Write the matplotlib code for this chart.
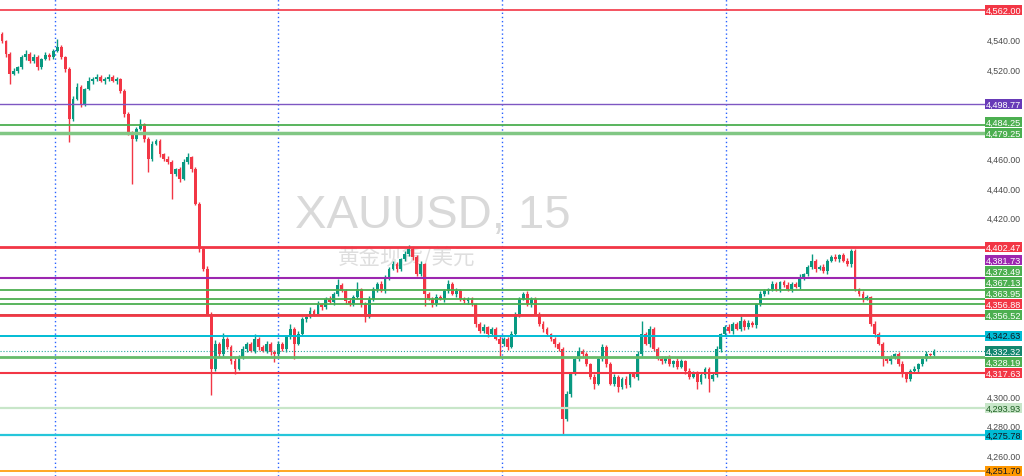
import numpy as np
import matplotlib.pyplot as plt
from matplotlib.patches import Rectangle
from matplotlib.transforms import blended_transform_factory

plt.rcParams['font.family'] = ['Liberation Sans', 'DejaVu Sans']

# XAUUSD 15m candles (open of each bar = previous close)
first_open = 4545.8
closes = [
    4541.1, 4532.4, 4518.9, 4520.9, 4523.6, 4530.3, 4532.4, 4527.6, 4530.3, 4523.6,
    4529.0, 4531.7, 4530.3, 4534.4, 4537.1, 4530.3, 4522.3, 4488.6, 4502.1, 4510.1,
    4498.7, 4508.8, 4514.2, 4515.5, 4516.9, 4514.2, 4515.5, 4516.9, 4514.2, 4515.5,
    4507.4, 4492.0, 4478.5, 4475.1, 4481.9, 4485.2, 4475.1, 4461.7, 4471.8, 4473.8,
    4465.0, 4461.7, 4459.6, 4451.6, 4454.9, 4448.2, 4459.6, 4463.0, 4454.9, 4431.4,
    4401.1, 4387.6, 4357.3, 4320.3, 4337.1, 4330.3, 4340.5, 4335.1, 4325.6, 4320.3,
    4328.3, 4333.7, 4337.1, 4332.4, 4340.5, 4335.1, 4332.4, 4337.1, 4331.7, 4330.3,
    4337.1, 4333.7, 4341.8, 4347.2, 4337.1, 4343.8, 4353.9, 4355.3, 4359.3, 4357.3,
    4364.0, 4362.0, 4367.4, 4365.4, 4370.8, 4376.8, 4372.8, 4366.0, 4364.0, 4368.7,
    4374.1, 4364.0, 4355.3, 4367.4, 4374.1, 4377.5, 4372.8, 4382.2, 4387.6, 4390.9,
    4387.6, 4394.3, 4397.7, 4401.1, 4395.6, 4384.2, 4390.9, 4370.8, 4367.4, 4364.0,
    4368.7, 4367.4, 4372.8, 4377.5, 4370.8, 4372.8, 4367.4, 4366.0, 4367.4, 4364.0,
    4350.6, 4345.8, 4348.5, 4343.8, 4347.2, 4340.5, 4337.1, 4340.5, 4335.1, 4343.8,
    4357.3, 4367.4, 4370.8, 4364.0, 4367.4, 4357.3, 4350.6, 4347.2, 4343.8, 4340.5,
    4337.1, 4333.7, 4286.6, 4303.4, 4316.9, 4327.0, 4332.4, 4330.3, 4323.6, 4314.9,
    4310.2, 4327.0, 4335.1, 4323.6, 4310.2, 4314.9, 4308.1, 4313.5, 4309.5, 4316.9,
    4314.9, 4330.3, 4343.8, 4337.1, 4347.2, 4333.7, 4327.0, 4325.6, 4328.3, 4323.6,
    4325.6, 4321.6, 4325.6, 4318.9, 4314.9, 4317.6, 4311.5, 4316.2, 4320.3, 4313.5,
    4316.2, 4333.7, 4343.8, 4348.5, 4345.8, 4350.6, 4347.2, 4352.6, 4348.5, 4351.2,
    4349.9, 4364.0, 4370.8, 4372.8, 4374.1, 4377.5, 4374.1, 4378.8, 4376.8, 4374.1,
    4377.5, 4375.5, 4382.2, 4384.2, 4388.9, 4393.0, 4387.6, 4388.9, 4386.2, 4393.0,
    4395.6, 4394.3, 4397.0, 4393.0, 4390.9, 4399.7, 4374.1, 4370.8, 4367.4, 4368.7,
    4350.6, 4343.8, 4337.1, 4327.0, 4325.6, 4328.3, 4330.3, 4323.6, 4316.9, 4313.5,
    4318.9, 4320.3, 4323.6, 4327.0, 4330.3, 4329.7, 4332.3,
]
# wick length above the body top / below the body bottom
upper_wicks = [
    1.5, 1.0, 1.5, 2.0, 1.0, 1.5, 2.5, 1.0, 2.0, 1.5,
    1.0, 2.0, 1.5, 1.0, 5.4, 1.5, 1.0, 1.5, 2.0, 2.5,
    1.5, 1.0, 2.5, 1.5, 2.0, 1.0, 1.5, 2.0, 1.0, 1.5,
    1.0, 1.5, 1.0, 2.0, 1.5, 3.4, 1.0, 1.5, 2.0, 1.0,
    1.5, 1.0, 2.0, 1.5, 1.0, 1.5, 2.0, 2.7, 1.0, 1.5,
    1.0, 1.5, 2.0, 1.0, 3.0, 1.5, 4.0, 1.5, 1.0, 2.0,
    1.5, 2.0, 1.0, 1.5, 3.3, 1.0, 1.5, 2.0, 1.0, 1.5,
    2.0, 1.0, 1.5, 3.4, 1.0, 2.0, 1.5, 1.0, 2.5, 1.5,
    2.0, 1.0, 1.5, 2.0, 1.0, 4.0, 1.5, 1.0, 2.0, 1.5,
    5.0, 1.0, 1.5, 2.0, 1.5, 1.0, 2.0, 1.5, 1.0, 2.0,
    1.5, 1.0, 2.0, 2.7, 1.0, 1.5, 2.0, 1.0, 1.5, 1.0,
    2.0, 1.5, 1.0, 3.0, 1.5, 2.0, 1.0, 1.5, 1.0, 1.5,
    1.0, 1.5, 2.0, 1.0, 1.5, 1.0, 2.0, 1.5, 1.0, 2.0,
    1.5, 1.0, 1.5, 2.0, 1.0, 1.5, 1.0, 2.0, 1.5, 1.0,
    1.5, 1.0, 1.5, 2.0, 1.0, 1.5, 2.5, 1.0, 1.5, 1.0,
    2.0, 1.5, 2.0, 1.0, 1.5, 2.0, 1.0, 1.5, 2.0, 1.0,
    1.5, 2.0, 8.8, 1.5, 2.0, 1.0, 1.5, 2.0, 1.0, 1.5,
    1.0, 2.0, 1.5, 1.0, 2.0, 1.5, 1.0, 2.0, 1.5, 1.0,
    1.5, 2.0, 1.0, 1.5, 2.0, 1.0, 1.5, 3.4, 1.0, 2.0,
    1.5, 1.0, 2.0, 1.5, 1.0, 2.0, 1.5, 1.0, 1.5, 2.0,
    1.0, 1.5, 2.0, 1.0, 1.5, 4.7, 1.0, 1.5, 2.0, 1.0,
    1.5, 2.0, 1.0, 1.5, 2.0, 1.4, 1.5, 1.0, 2.0, 1.5,
    1.0, 2.0, 1.5, 1.0, 2.0, 1.5, 1.0, 1.5, 2.0, 1.0,
    1.5, 2.0, 1.0, 1.5, 2.0, 1.0, 1.5,
]
lower_wicks = [
    1.5, 2.0, 6.7, 1.0, 1.5, 1.0, 2.0, 1.5, 1.0, 2.0,
    1.5, 1.0, 2.0, 1.5, 1.0, 1.5, 2.0, 15.5, 1.5, 1.0,
    2.0, 1.5, 1.0, 2.0, 1.5, 1.0, 2.0, 1.5, 1.0, 2.0,
    1.5, 2.0, 1.0, 30.0, 1.5, 1.0, 2.0, 8.8, 1.5, 1.0,
    2.0, 1.5, 1.0, 17.0, 1.5, 2.0, 1.0, 1.5, 2.0, 1.0,
    2.0, 1.5, 1.0, 17.5, 1.5, 2.0, 1.0, 1.5, 2.0, 3.4,
    1.0, 1.5, 2.0, 1.0, 1.5, 2.0, 1.0, 1.5, 2.0, 5.4,
    1.5, 1.0, 2.0, 1.5, 10.0, 1.0, 1.5, 2.0, 1.0, 1.5,
    1.0, 2.0, 1.5, 1.0, 2.0, 1.5, 1.0, 2.0, 1.5, 1.0,
    1.5, 2.0, 3.4, 1.0, 1.5, 2.0, 1.0, 1.5, 2.0, 1.0,
    2.0, 1.5, 1.0, 1.5, 2.0, 1.0, 1.5, 8.0, 1.0, 2.0,
    1.5, 1.0, 2.0, 1.5, 1.0, 2.0, 1.5, 1.0, 2.0, 1.5,
    2.0, 1.5, 1.0, 2.0, 1.5, 1.0, 9.0, 1.5, 2.0, 1.0,
    1.5, 2.0, 1.0, 1.5, 2.0, 1.0, 1.5, 2.0, 1.0, 1.5,
    2.0, 1.0, 10.8, 1.5, 2.0, 1.0, 1.5, 2.0, 1.0, 1.5,
    3.4, 1.0, 1.5, 2.0, 1.0, 1.5, 3.3, 1.0, 2.0, 1.5,
    1.0, 2.0, 1.5, 1.0, 2.0, 1.5, 1.0, 2.0, 1.5, 1.0,
    2.0, 1.5, 1.0, 2.0, 1.5, 1.0, 4.7, 1.5, 2.0, 8.7,
    1.0, 1.5, 2.0, 1.0, 1.5, 2.0, 1.0, 1.5, 2.0, 1.0,
    1.5, 2.0, 1.0, 1.5, 2.0, 1.0, 1.5, 2.0, 1.0, 1.5,
    2.0, 1.0, 1.5, 2.0, 1.0, 1.5, 2.0, 1.0, 1.5, 2.0,
    1.0, 1.5, 2.0, 1.0, 1.5, 2.0, 1.0, 1.5, 2.0, 1.0,
    1.5, 2.0, 1.0, 4.7, 1.5, 2.0, 1.0, 1.5, 2.0, 2.0,
    1.0, 1.5, 2.0, 1.0, 1.5, 2.0, 1.0,
]

# session separators (bar index)
session_breaks = [13.4, 69.9, 126.6, 183.3]

# horizontal levels
level_prices = [4562.00, 4498.77, 4484.25, 4479.25, 4402.47, 4381.73, 4373.49,
                4367.13, 4363.95, 4356.52, 4356.88, 4342.63, 4332.32, 4328.19,
                4317.63, 4293.93, 4275.78, 4251.70]
last_price = 4332.32
line_colors = ['#F23645', '#7E57C2', '#4CAF50', '#81C784', '#F23645', '#9C27B0', '#4CAF50',
               '#4CAF50', '#4CAF50', '#4CAF50', '#F23645', '#00BCD4', '#26A69A', '#66BB6A',
               '#F23645', '#C8E6C9', '#26C6DA', '#FF9800']
label_colors = ['#F23645', '#673AB7', '#4CAF50', '#4CAF50', '#F23645', '#9C27B0', '#4CAF50',
                '#4CAF50', '#4CAF50', '#4CAF50', '#F23645', '#00BCD4', '#12876F', '#4CAF50',
                '#F23645', '#C8E6C9', '#00BCD4', '#FF9800']
text_colors = ['white', 'white', 'white', 'white', 'white', 'white', 'white',
               'white', 'white', 'white', 'white', '#131722', 'white', 'white',
               'white', '#1B5E20', '#131722', '#131722']
line_widths = [1.2, 1.0, 1.3, 2.5, 2.0, 1.5, 1.3, 1.3, 1.3, 1.3, 2.0, 1.4, 0.8, 2.0,
               1.5, 1.6, 1.6, 1.2]
line_styles = ['-'] * 12 + [':'] + ['-'] * 5

axis_ticks = [4540, 4520, 4460, 4440, 4420, 4300, 4280, 4260]

opens = np.array([first_open] + closes[:-1])
close_a = np.array(closes)
highs = np.maximum(opens, close_a) + np.array(upper_wicks)
lows = np.minimum(opens, close_a) - np.array(lower_wicks)
idx = np.arange(len(closes))
colors = np.where(close_a >= opens, '#089981', '#F23645')

fig = plt.figure(figsize=(10.24, 4.77), dpi=100)
ax = fig.add_axes([0, 0, 985 / 1024, 1])
ax.set_xlim(-0.5, 248.9)
ax.set_ylim(4248.2, 4569.4)
ax.axis('off')
px = (4569.4 - 4248.2) / 477  # price per pixel

# watermark
ax.text(0.439, 0.547, 'XAUUSD, 15', transform=ax.transAxes, ha='center', va='center',
        fontsize=34, color='#D9D9D9', zorder=0)
ax.text(0.413, 0.459, '黄金现货/美元', transform=ax.transAxes, ha='center', va='center',
        fontsize=15.5, color='#DEDEDE', family=['Noto Sans CJK SC', 'DejaVu Sans'], zorder=0)

for xb in session_breaks:
    ax.axvline(xb, color='#2962FF', lw=1.0, ls=(0, (1, 2)), zorder=1)

# candles
ax.vlines(idx, lows, highs, colors=colors, lw=1.0, zorder=2)
body = np.maximum(np.abs(close_a - opens), 0.5)
ax.bar(idx, body, bottom=np.minimum(opens, close_a), width=0.72, color=colors,
       linewidth=0, zorder=2)

for p, c, w, s in zip(level_prices, line_colors, line_widths, line_styles):
    ax.axhline(p, color=c, lw=w, ls=s, zorder=3)

# price labels on the right: last price stays put, others are pushed away from it
trans = blended_transform_factory(ax.transAxes, ax.transData)
gap = 11 * px
label_y = {}
above = sorted([k for k, p in enumerate(level_prices) if p >= last_price],
               key=lambda k: level_prices[k])
below = sorted([k for k, p in enumerate(level_prices) if p < last_price],
               key=lambda k: -level_prices[k])
prev = None
for k in above:
    y = level_prices[k] if prev is None else max(level_prices[k], prev + gap)
    label_y[k] = y
    prev = y
prev = last_price
for k in below:
    y = min(level_prices[k], prev - gap)
    label_y[k] = y
    prev = y

box_w = 37 / 985
box_h = 10.5 * px
for k, p in enumerate(level_prices):
    y = label_y[k]
    ax.add_patch(Rectangle((1.0, y - box_h / 2), box_w, box_h, transform=trans,
                           facecolor=label_colors[k], edgecolor='none', clip_on=False, zorder=5))
    ax.text(1.0 + box_w / 2, y, f'{p:,.2f}', transform=trans, ha='center', va='center',
            fontsize=6.6, color=text_colors[k], zorder=6)

for t in axis_ticks:
    ax.text(1.0 + box_w / 2, t + 2.2 * px, f'{t:,.2f}', transform=trans, ha='center',
            va='center', fontsize=6.3, color='#4A4A4A')

fig.savefig('out.png', dpi=100)
